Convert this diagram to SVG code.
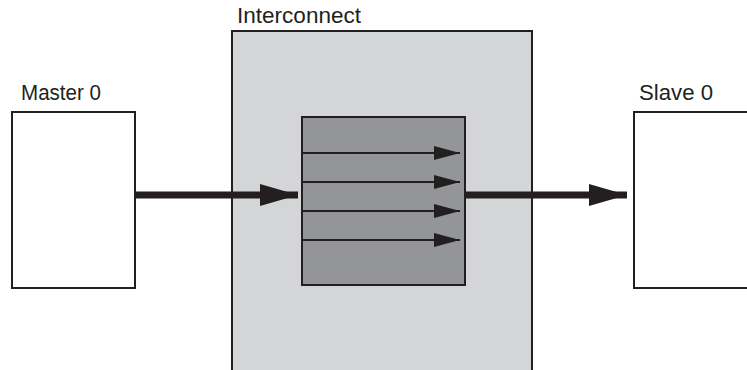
<svg xmlns="http://www.w3.org/2000/svg" width="747" height="370" viewBox="0 0 747 370">
<defs>
<style>
.lbl{font-family:"Liberation Sans",Arial,sans-serif;font-size:21.5px;fill:#231f20}
.box{stroke:#231f20;stroke-width:2}
.thick{stroke:#231f20;stroke-width:7;fill:none}
.thin{stroke:#231f20;stroke-width:2;fill:none}
</style>
<marker id="bigHead" markerUnits="userSpaceOnUse" markerWidth="40" markerHeight="22" refX="38" refY="11" orient="auto">
<path d="M0,0 L38,11 L0,22 Z" fill="#231f20"/>
</marker>
<marker id="smallHead" markerUnits="userSpaceOnUse" markerWidth="28" markerHeight="14" refX="26" refY="7" orient="auto">
<path d="M0,0 L26,7 L0,14 Z" fill="#231f20"/>
</marker>
</defs>
<g id="interconnect">
<rect class="box" x="232" y="31" width="300" height="345" fill="#d4d5d7"/>
<text class="lbl" x="237" y="23" textLength="124" lengthAdjust="spacingAndGlyphs">Interconnect</text>
</g>
<g id="crossbar">
<rect class="box" x="302" y="117" width="163" height="168" fill="#939598"/>
</g>
<g id="master0">
<rect class="box" x="12" y="112" width="123" height="176" fill="#ffffff"/>
<text class="lbl" x="21" y="100" textLength="80" lengthAdjust="spacingAndGlyphs">Master 0</text>
</g>
<g id="slave0">
<rect class="box" x="634" y="112" width="130" height="176" fill="#ffffff"/>
<text class="lbl" x="639" y="100" textLength="74" lengthAdjust="spacingAndGlyphs">Slave 0</text>
</g>
<g id="connectors">
<line class="thick" x1="135" y1="195" x2="298" y2="195" marker-end="url(#bigHead)"/>
<line class="thick" x1="465" y1="195" x2="627" y2="195" marker-end="url(#bigHead)"/>
<line class="thin" x1="302" y1="153" x2="460" y2="153" marker-end="url(#smallHead)"/>
<line class="thin" x1="302" y1="182" x2="460" y2="182" marker-end="url(#smallHead)"/>
<line class="thin" x1="302" y1="211" x2="460" y2="211" marker-end="url(#smallHead)"/>
<line class="thin" x1="302" y1="240" x2="460" y2="240" marker-end="url(#smallHead)"/>
</g>
</svg>
